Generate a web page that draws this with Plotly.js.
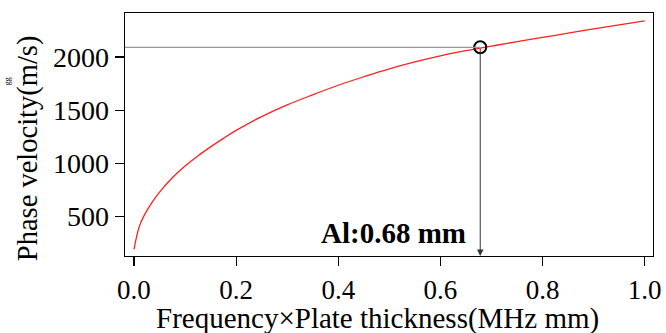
<!DOCTYPE html>
<html>
<head>
<meta charset="utf-8">
<script src="https://cdn.plot.ly/plotly-3.0.1.min.js"></script>
<style>html,body{margin:0;padding:0;background:#fff;}#chart{width:666px;height:333px;}</style>
</head>
<body>
<div id="chart"></div>
<script>
// Data
const fd = [0, 0.01, 0.02, 0.035, 0.05, 0.075, 0.1, 0.125, 0.15, 0.175, 0.2, 0.25, 0.3, 0.35, 0.4, 0.45, 0.5, 0.55, 0.6, 0.65, 0.7, 0.75, 0.8, 0.85, 0.9, 0.95, 1.0];
const velocity = [190, 400, 510, 630, 730, 865, 975, 1070, 1155, 1235, 1310, 1440, 1550, 1645, 1735, 1815, 1890, 1955, 2012, 2060, 2103, 2145, 2185, 2225, 2265, 2303, 2340];
const markX = [0.678];
const markY = [2092];
const labelText = "Al:0.68 mm";
const xTicks = [0, 0.2, 0.4, 0.6, 0.8, 1.0];
const xTickText = ["0.0", "0.2", "0.4", "0.6", "0.8", "1.0"];
const yTicks = [500, 1000, 1500, 2000];

const xRange = [-0.0176, 1.0163];
const yRange = [128, 2415];
const serif = "'Liberation Serif', 'Times New Roman', serif";

const traces = [
  {x: fd, y: velocity, type: "scatter", mode: "lines",
   line: {color: "#ff2020", width: 1.3, shape: "spline", smoothing: 1}, hoverinfo: "skip"},
  {x: markX, y: markY, type: "scatter", mode: "markers",
   marker: {symbol: "circle-open", size: 12, color: "#000", line: {width: 2, color: "#000"}}}
];

const layout = {
  width: 666, height: 333,
  margin: {l: 125, r: 13, t: 13, b: 77},
  showlegend: false,
  paper_bgcolor: "#fff", plot_bgcolor: "#fff",
  font: {family: serif, color: "#000", size: 27},
  xaxis: {range: xRange, tickvals: xTicks, ticktext: xTickText,
    showgrid: false, zeroline: false, showline: true, mirror: true,
    linecolor: "#000", linewidth: 1.3, ticks: "outside", ticklen: 9, tickcolor: "#000",
    tickwidth: 1.2, tickfont: {family: serif, size: 27, color: "#000"}},
  yaxis: {range: yRange, tickvals: yTicks,
    showgrid: false, zeroline: false, showline: true, mirror: true,
    linecolor: "#000", linewidth: 1.3, ticks: "outside", ticklen: 9, tickcolor: "#000",
    tickwidth: 1.2, tickfont: {family: serif, size: 28, color: "#000"}},
  shapes: [
    {type: "line", xref: "x", yref: "y", x0: xRange[0], x1: markX[0], y0: markY[0], y1: markY[0],
     line: {color: "#999", width: 1.2}}
  ],
  annotations: [
    {xref: "x", yref: "y", axref: "x", ayref: "y", x: markX[0], y: yRange[0], ax: markX[0], ay: markY[0],
     showarrow: true, arrowhead: 2, arrowsize: 1.3, arrowwidth: 1, arrowcolor: "#333", text: ""},
    {xref: "x", yref: "y", x: 0.509, y: 349, text: "<b>" + labelText + "</b>", showarrow: false,
     font: {family: serif, size: 29, color: "#000"}, xanchor: "center", yanchor: "middle"},
    {xref: "paper", yref: "paper", x: -0.1836, y: 0.444, text: "Phase velocity(m/s)", showarrow: false,
     textangle: -90, font: {family: serif, size: 28.5, color: "#000"}, xanchor: "center", yanchor: "middle"},
    {xref: "paper", yref: "paper", x: 0.479, y: -0.256, text: "Frequency×Plate thickness(MHz mm)", showarrow: false,
     font: {family: serif, size: 29, color: "#000"}, xanchor: "center", yanchor: "middle"},
    {xref: "paper", yref: "paper", x: -0.223, y: 0.72, text: "gg", showarrow: false,
     textangle: -90, font: {family: serif, size: 8, color: "#000"}, xanchor: "center", yanchor: "middle"}
  ]
};

Plotly.newPlot("chart", traces, layout, {displayModeBar: false, staticPlot: true});
</script>
</body>
</html>
